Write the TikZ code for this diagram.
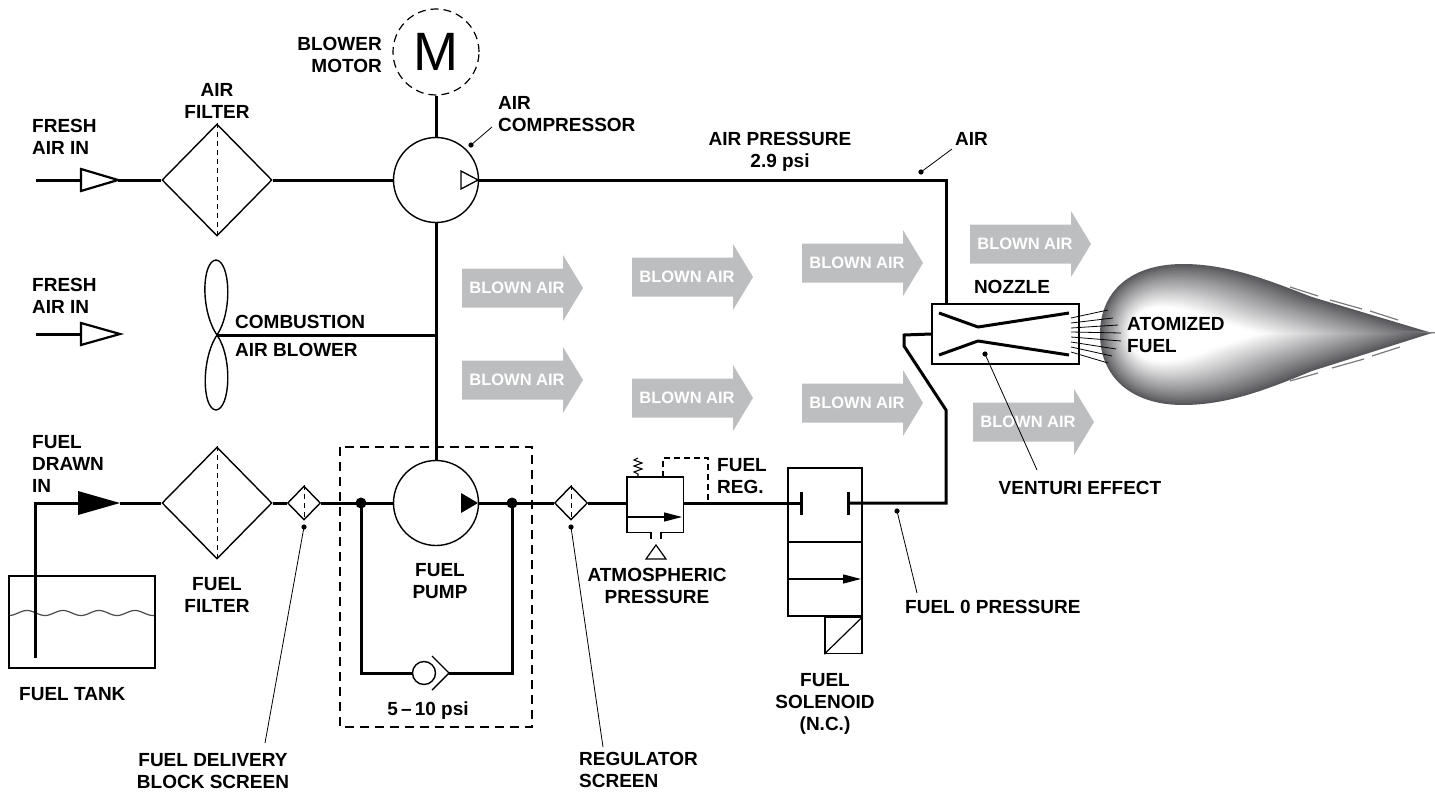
\documentclass[tikz,border=0pt]{standalone}
\usepackage{fontspec}
\setmainfont{Liberation Sans}
\usepackage{xcolor}
\usepackage{tikz}
\usetikzlibrary{arrows.meta, positioning, shapes.geometric, calc}

\definecolor{blowngray}{RGB}{188,190,192}
\definecolor{flamedark}{RGB}{88,88,92}
\newcommand\lblfont{\fontsize{19}{22}\selectfont\bfseries}
\newcommand\flameoutline{(1100,334) .. controls (1100,292) and (1130,264) .. (1183,264)
  .. controls (1228,264) and (1268,280) .. (1312,297) -- (1432,333) -- (1312,371)
  .. controls (1268,389) and (1228,405) .. (1183,405)
  .. controls (1130,405) and (1100,376) .. (1100,334) -- cycle}

\begin{document}
\begin{tikzpicture}[x=1pt, y=-1pt, >=Stealth,
  pipe/.style={line width=3pt},
  part/.style={draw, line width=1.4pt, fill=white, inner sep=0pt},
  lbl/.style={font=\lblfont, inner sep=0pt},
  leader/.style={line width=0.8pt},
  screen/.style={line width=1pt, dash pattern=on 5pt off 4pt},
  boxdash/.style={line width=1.2pt, dash pattern=on 9pt off 6pt},
  blowntext/.style={text=white, font=\fontsize{16.5}{18}\selectfont\bfseries, inner sep=0pt}]

  \useasboundingbox (0,0) rectangle (1435,792);

  % blown air arrows
  \foreach \bx/\by [count=\i] in {462/288, 632/277, 802/263, 970/244, 462/380, 632/398, 802/403, 973/422} {
    \fill[blowngray] (\bx,\by-19.5) -- (\bx+101,\by-19.5) -- (\bx+101,\by-33) -- (\bx+121,\by)
      -- (\bx+101,\by+33) -- (\bx+101,\by+19.5) -- (\bx,\by+19.5) -- cycle;
    \node[blowntext] (blown\i) at (\bx+55,\by) {BLOWN AIR};
  }

  % flame, lighter copies shrunk toward the nozzle side
  \fill[flamedark] \flameoutline;
  \foreach \k in {1,...,30} {
    \pgfmathsetmacro\s{1-0.025*\k}
    \pgfmathtruncatemacro\p{min(100,100*((1-\s)/0.6)^0.9)}
    \fill[white!\p!flamedark, shift={(1150,334)}, scale=\s, shift={(-1150,-334)}] \flameoutline;
  }
  \foreach \ax/\ay/\bx/\by in {1290/287/1318/296, 1330/300/1362/309, 1370/311/1398/320,
                              1290/381/1318/373, 1332/368/1364/359, 1372/356/1400/347,
                              1395/331/1438/333} {
    \draw[flamedark!80, line width=1.2pt] (\ax,\ay) -- (\bx,\by);
  }

  % air side
  \coordinate (airin) at (36,180);
  \coordinate (airtri) at (81,180);
  \node[part, diamond, minimum width=110pt, minimum height=112pt] (af) at (217,180) {};
  \draw[screen] (af.north) -- (af.south);
  \node[part, circle, minimum size=85pt] (comp) at (436,180) {};
  \node[draw, circle, line width=1.2pt, dash pattern=on 8pt off 5pt, minimum size=86pt, inner sep=0pt,
        font=\fontsize{54}{54}\selectfont] (motor) at (436,52) {M};
  \draw[pipe] (airin) -- (airtri);
  \draw[line width=2.2pt, fill=white] (airtri) -- ++(0,-11) -- (118,180) -- (81,191) -- cycle;
  \draw[pipe] (118,180) -- (af.west);
  \draw[pipe] (af.east) -- (comp.west);
  \draw[pipe] (motor.south) -- (comp.north);
  \draw[line width=1.3pt] (461,171) -- (478,180) -- (461,189) -- cycle;

  \node[part, minimum width=147pt, minimum height=60pt] (nozzle) at (1005.5,334) {};
  \coordinate (airturn) at (946,180);
  \draw[pipe] (comp.east) -- (airturn) -- (airturn |- nozzle.north);
  \draw[pipe, line join=round] (939,313) -- (978,327) -- (1069,313);
  \draw[pipe, line join=round] (939,355) -- (978,341) -- (1069,355);
  \foreach \sy/\ex/\ey in {318/1108/310, 323/1113/318, 328/1118/325, 332/1121/333,
                           337/1121/341, 342/1116/349, 347/1112/356, 352/1108/363} {
    \draw[line width=0.8pt] (1071,\sy) -- (\ex,\ey);
  }

  % combustion air blower
  \coordinate (airin2) at (36,334);
  \draw[pipe] (airin2) -- (81,334);
  \draw[line width=2.2pt, fill=white] (81,323) -- (120,334) -- (81,345) -- cycle;
  \coordinate (fan) at (217,335);
  \draw[line width=1.4pt] (fan) .. controls (200,310) and (202,261) .. (216,260)
    .. controls (230,261) and (233,311) .. (fan)
    .. controls (201,359) and (202,409) .. (216,410)
    .. controls (230,409) and (233,358) .. (fan);
  \draw[pipe] (fan) -- (fan -| comp.south);

  % fuel side
  \node[part, minimum width=146pt, minimum height=92pt] (tank) at (82,622) {};
  \draw[gray!60!black, line width=1.2pt] plot[domain=10:154, samples=90] (\x,{613+2.5*sin(\x*10)});
  \coordinate (pickup) at (35,658);
  \coordinate (fueltri) at (78,503);
  \node[part, diamond, minimum width=110pt, minimum height=112pt] (ff) at (217,503) {};
  \draw[screen] (ff.north) -- (ff.south);
  \node[part, diamond, minimum width=33pt, minimum height=34pt] (ds) at (304,503) {};
  \draw[screen] (ds.north) -- (ds.south);
  \node[part, circle, minimum size=85pt] (pump) at (436,503) {};
  \node[part, diamond, minimum width=33pt, minimum height=34pt] (rs) at (571,503) {};
  \draw[screen] (rs.north) -- (rs.south);
  \draw[boxdash] (340,447) rectangle (532,727);
  \coordinate (jl) at (361,503);
  \coordinate (jr) at (512,503);
  \node[part, circle, minimum size=23pt] (check) at (424,673) {};

  \draw[pipe] (pickup) -- (35,503) -- (fueltri);
  \fill (fueltri) -- ++(0,-12) -- (120,503) -- (78,515) -- cycle;
  \draw[pipe] (120,503) -- (ff.west);
  \draw[pipe] (ff.east) -- (ds.west);
  \draw[pipe] (ds.east) -- (jl) -- (pump.west);
  \draw[pipe] (pump.east) -- (jr) -- (rs.west);
  \draw[pipe] (comp.south) -- (pump.north);
  \fill (461,493) -- (478,503) -- (461,513) -- cycle;
  \fill (jl) circle (5.5);
  \fill (jr) circle (5.5);
  \draw[pipe] (jl) -- (jl |- check) -- (check.west);
  \draw[line width=1.4pt] (432,656) -- (449,673) -- (432,690);
  \draw[pipe] (449,673) -- (jr |- check) -- (jr);

  % fuel regulator
  \node[minimum width=56pt, minimum height=55pt, inner sep=0pt] (reg) at (655,504.5) {};
  \draw[line width=1.4pt] ($(reg.south)+(-4,0)$) -- (reg.south west) -- (reg.north west)
    -- (reg.north east) -- (reg.south east) -- ($(reg.south)+(6,0)$);
  \draw[line width=1.4pt] ($(reg.south)+(-4,0)$) -- ++(0,7);
  \draw[line width=1.4pt] ($(reg.south)+(6,0)$) -- ++(0,7);
  \draw[line width=1.2pt] (656,545) -- (666,559) -- (646,559) -- cycle;
  \draw[line width=1.3pt, -{Triangle[length=18pt, width=9pt]}] (627,517) -- (682,517);
  \draw[line width=1.1pt] (638,477) -- (638,474) -- (634,472) -- (642,469) -- (634,466)
    -- (642,463) -- (634,460) -- (638,458);
  \draw[pipe] (rs.east) -- (reg.west |- rs.east);
  \draw[line width=1.1pt, dash pattern=on 6pt off 4pt] (663,477) -- (663,458) -- (708,458) -- (708,503);

  % fuel solenoid
  \node[part, minimum width=74pt, minimum height=148pt] (sol) at (825,542) {};
  \draw[line width=2.2pt] (sol.west) -- (sol.east);
  \draw[pipe] (reg.east |- rs.east) -- (801,503);
  \draw[pipe] (801,492) -- (801,515);
  \draw[pipe] (848,492) -- (848,515);
  \draw[line width=1.3pt, -{Triangle[length=18pt, width=9pt]}] (789,579) -- (861,579);
  \node[part, minimum width=37pt, minimum height=36pt, anchor=north east] (coil) at (sol.south east) {};
  \draw[line width=1.2pt] (coil.south west) -- (coil.north east);
  \coordinate (fuelturn) at (946,503);
  \draw[pipe] (848,503) -- (fuelturn) -- (946,410) -- (904,346) -- (904,335) -- (nozzle.west);

  % labels
  \node[lbl, align=left, anchor=north west] (freshair) at (32,119) {FRESH\\AIR IN};
  \node[lbl, align=left, anchor=north west] (freshair2) at (32,278) {FRESH\\AIR IN};
  \node[lbl, align=center, anchor=north] (aflbl) at (217,83) {AIR\\FILTER};
  \node[lbl, align=right, anchor=north east] (motorlbl) at (382,37) {BLOWER\\MOTOR};
  \node[lbl, align=left, anchor=north west] (complbl) at (498,96) {AIR\\COMPRESSOR};
  \node[lbl, align=center, anchor=north] (presslbl) at (780,132) {AIR PRESSURE\\2.9 psi};
  \node[lbl, anchor=north west] (airlbl) at (955,132) {AIR};
  \node[lbl, anchor=north] (nozlbl) at (1012,280) {NOZZLE};
  \node[lbl, align=left, anchor=north west] (atomlbl) at (1127,317) {ATOMIZED\\FUEL};
  \node[lbl, align=left, anchor=north west] (fanlbl) at (235,315) {COMBUSTION\\[6pt]AIR BLOWER};
  \node[lbl, align=center, anchor=north] (ventlbl) at (1080,481) {VENTURI EFFECT};
  \node[lbl, align=left, anchor=north west] (drawnlbl) at (32,435) {FUEL\\DRAWN\\IN};
  \node[lbl, align=center, anchor=north] (fflbl) at (217,577) {FUEL\\FILTER};
  \node[lbl, anchor=north west] (tanklbl) at (19,687) {FUEL TANK};
  \node[lbl, align=center, anchor=north] (dslbl) at (213,753) {FUEL DELIVERY\\BLOCK SCREEN};
  \node[lbl, align=center, anchor=north] (pumplbl) at (440,563) {FUEL\\PUMP};
  \node[lbl, anchor=north] (psilbl) at (428,702) {5\,--\,10 psi};
  \node[lbl, align=left, anchor=north west] (rslbl) at (579,752) {REGULATOR\\SCREEN};
  \node[lbl, align=center, anchor=north] (atmlbl) at (657,568) {ATMOSPHERIC\\PRESSURE};
  \node[lbl, align=left, anchor=north west] (reglbl) at (717,458) {FUEL\\REG.};
  \node[lbl, align=center, anchor=north] (sollbl) at (825,673) {FUEL\\SOLENOID\\(N.C.)};
  \node[lbl, anchor=north west] (zerolbl) at (905,600) {FUEL 0 PRESSURE};

  % leaders
  \foreach \dx/\dy/\tx/\ty in {471/145/492/127, 921/172/952/149, 985/354/1037/470,
                              304/527/265/743, 571/527/603/747, 897/511/917/593} {
    \fill (\dx,\dy) circle (2.6);
    \draw[leader] (\dx,\dy) -- (\tx,\ty);
  }
\end{tikzpicture}
\end{document}
